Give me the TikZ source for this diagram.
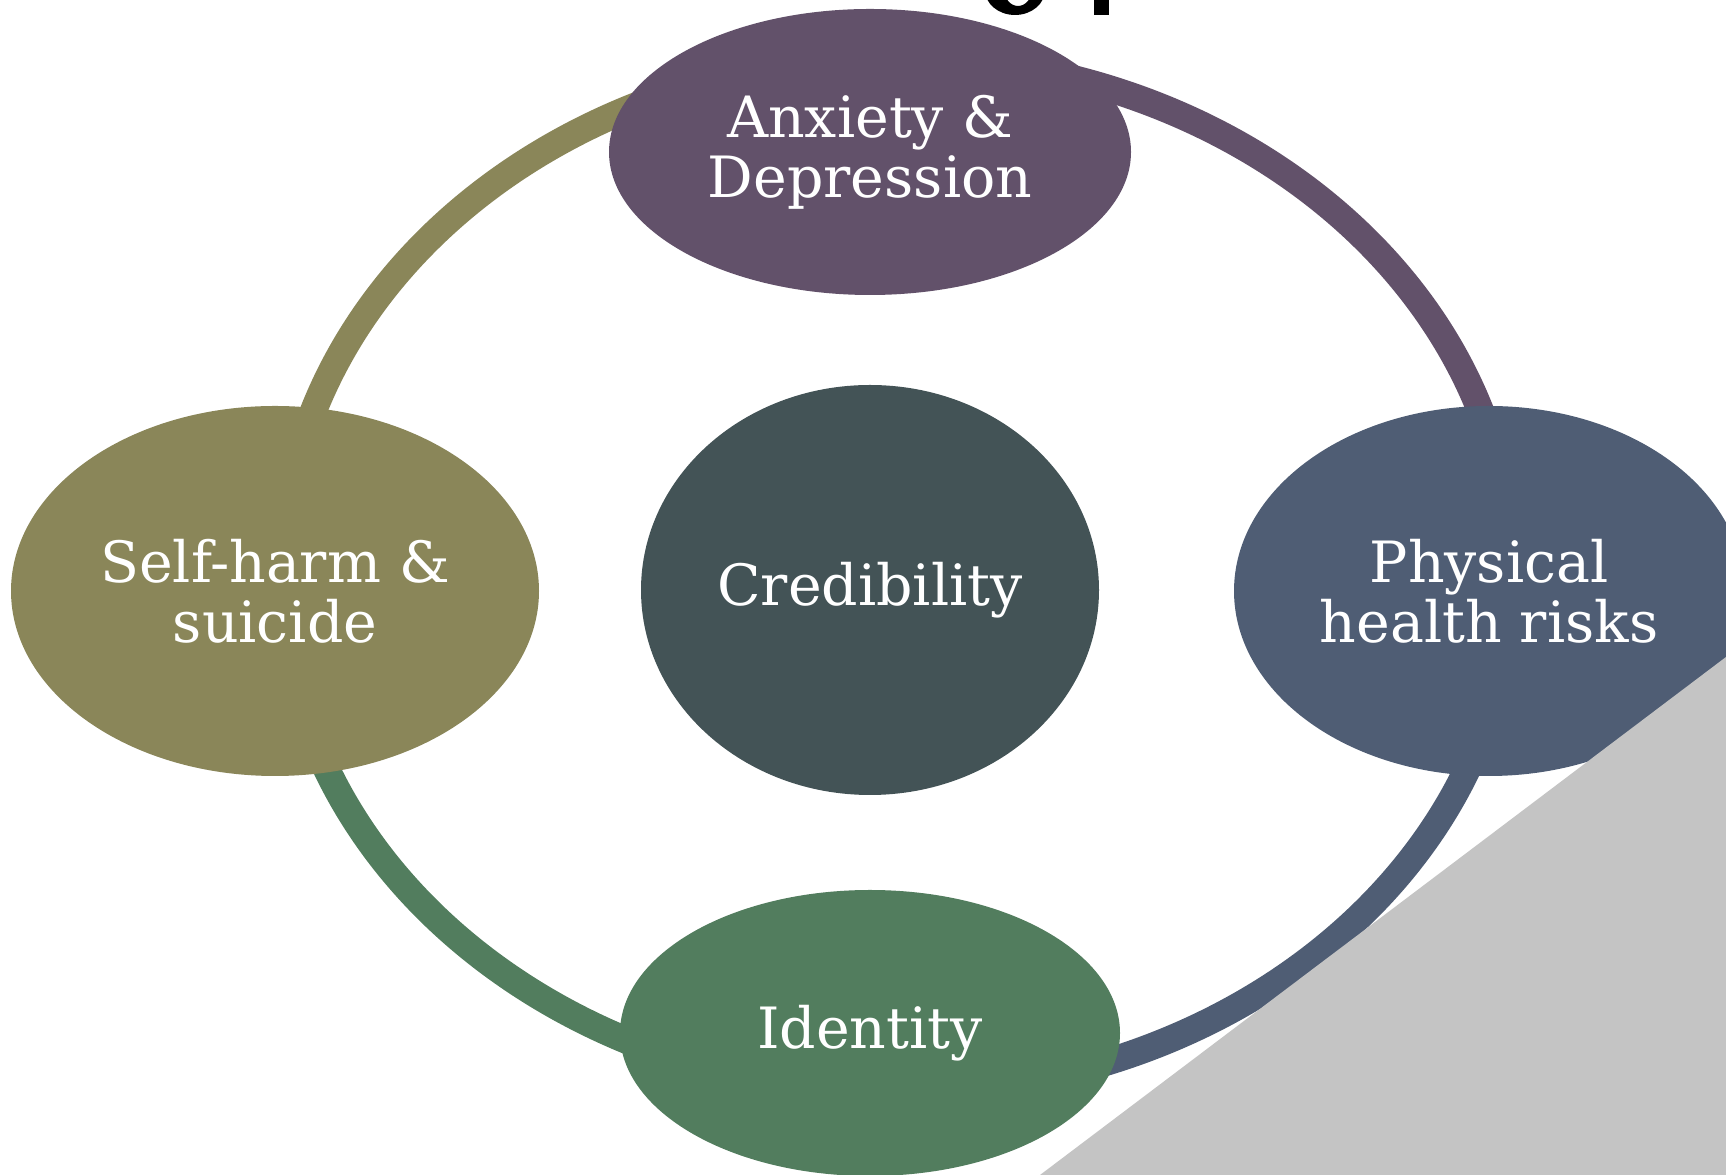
\documentclass[tikz,border=0pt]{standalone}
\usepackage{fontspec}
\setmainfont{DejaVu Serif}
\usetikzlibrary{shapes.geometric}

\definecolor{plum}{HTML}{62516A}
\definecolor{moss}{HTML}{8A8659}
\definecolor{slate}{HTML}{435356}
\definecolor{steel}{HTML}{4F5D74}
\definecolor{fern}{HTML}{527D5E}
\definecolor{cornergrey}{HTML}{C4C4C4}

\begin{document}
\begin{tikzpicture}[
	blob/.style={ellipse, fill=#1, text=white, inner sep=0pt, align=center,
		font=\fontsize{16.2}{17}\selectfont},
	ring/.style={line width=0.27cm}
]
	\path[use as bounding box, clip] (0,0) rectangle (17.26,11.75);

	% Ring behind the ellipses
	\coordinate (ringc) at (8.97,6.00);
	\draw[ring, moss] ([shift={(90:6.15 and 5.18)}]ringc) arc[start angle=90, end angle=180, x radius=6.15, y radius=5.18];
	\draw[ring, plum] ([shift={(0:6.15 and 5.18)}]ringc) arc[start angle=0, end angle=90, x radius=6.15, y radius=5.18];
	\draw[ring, steel] ([shift={(-90:6.15 and 5.18)}]ringc) arc[start angle=-90, end angle=0, x radius=6.15, y radius=5.18];
	\draw[ring, fern] ([shift={(180:6.15 and 5.18)}]ringc) arc[start angle=180, end angle=270, x radius=6.15, y radius=5.18];

	% Outer ellipses
	\node[blob=plum, minimum width=5.22cm, minimum height=2.86cm] (anx) at (8.70,10.23) {Anxiety \&\\Depression};
	\node[blob=moss, minimum width=5.28cm, minimum height=3.70cm] (self) at (2.75,5.84) {Self-harm \&\\suicide};
	\node[blob=steel, minimum width=5.10cm, minimum height=3.70cm] (phys) at (14.89,5.84) {Physical\\health risks};
	\node[blob=fern, minimum width=5.00cm, minimum height=2.86cm] (iden) at (8.70,1.42) {Identity};

	% Centre
	\node[blob=slate, minimum width=4.58cm, minimum height=4.10cm] (cred) at (8.70,5.85) {Credibility};

	% Page corner
	\fill[cornergrey] (10.40,0) -- (17.26,5.18) -- (17.26,0) -- cycle;

	% Bottom of the cut-off title
	\fill[black, even odd rule] (10.15,11.85) ellipse (0.30 and 0.25) (10.18,11.86) ellipse (0.14 and 0.17);
	\fill[black] (10.94,11.60) rectangle (11.09,11.75);

\end{tikzpicture}
\end{document}
